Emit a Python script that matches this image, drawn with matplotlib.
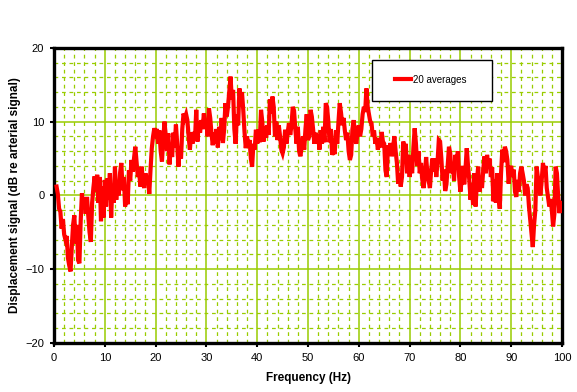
# Displacement signal spectrum, 20 averages
import matplotlib.pyplot as plt
from matplotlib.patches import Rectangle
import numpy as np

plt.rcParams['font.family'] = ['Liberation Sans', 'DejaVu Sans']

# frequency grid of the spectrum (Hz), 0.5 .. 99.75
freq = np.arange(0.5, 100, 0.25)

# values, in dB, one list per 10 Hz
seg_00 = [1.2, 0.2, -1.8, -2.2, -4.5, -3.2, -5.3, -6.0, -5.5, -8.5,
          -9.5, -10.3, -7.0, -4.0, -2.7, -6.5, -4.0, -8.8, -9.2, -3.5,
          0.3, -1.5, -0.3, -2.5, -0.2, -2.8, -5.0, -6.3, -1.0, 1.0,
          2.6, 0.5, 2.8, -1.0, 2.5, -3.5, 1.2, -3.0]
seg_10 = [2.1, -1.5, 2.3, -0.6, 3.0, -3.0, 1.5, -1.0, 3.9, -0.6,
          2.0, 0.0, 3.0, 4.4, 0.7, 2.5, -1.5, 0.5, -1.2, 3.4,
          2.0, 4.8, 3.2, 5.0, 6.6, 4.5, 2.5, 3.4, 1.2, 3.9,
          2.0, 1.0, 3.0, 2.0, 2.6, 0.2, 3.5, 6.4, 8.0, 9.1]
seg_20 = [8.5, 9.0, 7.0, 8.8, 6.0, 4.6, 7.5, 10.0, 8.0, 6.0,
          8.4, 4.2, 7.0, 5.2, 8.5, 6.5, 9.6, 7.0, 3.9, 6.5,
          5.0, 9.0, 11.1, 10.5, 11.0, 10.2, 8.0, 6.2, 8.5, 7.0,
          8.6, 7.5, 11.6, 7.3, 10.0, 8.5, 10.2, 9.0, 11.1, 9.0]
seg_30 = [10.0, 8.0, 11.8, 10.5, 8.4, 6.8, 8.5, 7.0, 9.0, 6.5,
          9.3, 7.5, 10.5, 7.1, 9.0, 12.5, 10.7, 12.0, 14.0, 16.1,
          13.0, 14.3, 9.0, 7.0, 11.0, 9.5, 14.5, 12.5, 14.0, 11.6,
          8.6, 6.4, 8.0, 6.8, 7.5, 5.0, 3.9, 7.0, 6.2, 8.9]
seg_40 = [7.0, 8.9, 7.2, 11.6, 10.0, 7.3, 9.3, 7.8, 9.5, 8.2,
          13.0, 11.1, 13.4, 12.0, 8.0, 10.0, 7.5, 9.5, 8.0, 6.2,
          5.7, 6.5, 8.9, 7.0, 8.5, 9.8, 8.2, 9.5, 12.0, 11.5,
          9.0, 7.0, 9.3, 6.0, 5.3, 6.5, 8.0, 6.2, 9.0, 11.0]
seg_50 = [7.5, 8.0, 11.6, 10.7, 9.0, 7.0, 8.5, 7.0, 8.3, 6.2,
          8.8, 7.0, 9.3, 7.2, 12.5, 12.0, 10.0, 7.2, 9.0, 5.5,
          6.0, 5.6, 8.8, 7.0, 10.0, 12.5, 11.2, 9.5, 10.5, 8.8,
          7.5, 8.5, 6.0, 4.8, 5.5, 9.0, 10.2, 8.0, 7.0, 8.5]
seg_60 = [9.5, 8.0, 9.0, 11.0, 12.0, 11.3, 14.5, 12.0, 11.0, 10.0,
          9.8, 8.0, 8.8, 7.0, 7.8, 6.2, 7.5, 6.5, 8.6, 7.3,
          7.0, 3.4, 2.5, 6.8, 5.7, 7.1, 5.3, 6.5, 8.0, 6.0,
          4.4, 1.6, 3.0, 1.2, 2.5, 7.3, 6.2, 7.0, 3.0, 5.5]
seg_70 = [2.5, 4.0, 3.0, 6.5, 9.1, 7.0, 4.0, 6.0, 3.0, 4.4,
          2.1, 1.0, 2.5, 5.2, 3.0, 2.0, 1.0, 3.5, 5.0, 3.2,
          5.0, 2.5, 4.5, 7.5, 7.3, 5.0, 2.0, 3.5, 0.6, 1.5,
          4.0, 6.6, 5.7, 3.0, 4.5, 2.0, 5.5, 4.0, 6.0, 2.5]
seg_80 = [0.5, 2.0, 4.0, 1.5, 3.5, 6.4, 4.0, 2.1, -0.6, 1.6,
          -1.3, 3.0, -1.5, 2.0, 3.9, 0.5, 2.5, 1.0, 3.5, 5.3,
          3.0, 5.5, 4.0, 5.0, 2.5, 3.8, -0.8, 2.1, -1.0, 3.0,
          -0.2, -1.8, 3.0, 6.2, 4.5, 6.6, 6.0, 4.8, 1.6, 3.5]
seg_90 = [4.0, 2.5, 3.5, 0.5, -0.2, 2.1, 0.5, 3.0, 3.9, 3.0,
          2.0, 0.0, 1.5, 1.0, -1.5, -3.3, -5.0, -7.0, -4.0, -2.0,
          3.9, 2.5, 1.0, 0.0, 2.0, 4.4, 3.0, 4.0, 1.0, -0.2,
          -1.5, -0.5, -2.0, -4.2, -2.5, 3.9, 3.0, -0.2, -2.4, -1.0]

signal = np.array(seg_00 + seg_10 + seg_20 + seg_30 + seg_40 +
                  seg_50 + seg_60 + seg_70 + seg_80 + seg_90)

x_ticks = [0, 10, 20, 30, 40, 50, 60, 70, 80, 90, 100]
y_ticks = [-20, -10, 0, 10, 20]
grid_color = '#99CC00'

fig = plt.figure(figsize=(5.77, 3.92), dpi=100)
ax = fig.add_axes([0.0936, 0.125, 0.8804, 0.753])

ax.plot(freq, signal, color='#FF0000', lw=3.0, solid_joinstyle='miter',
        label='20 averages', zorder=3)

ax.set_xlim(0, 100)
ax.set_ylim(-20, 20)
ax.set_xticks(x_ticks)
ax.set_yticks(y_ticks)
ax.set_xticks(np.arange(0, 101, 2), minor=True)
ax.set_yticks(np.arange(-20, 21, 2), minor=True)

# grid: solid majors, dashed minors
ax.grid(which='major', color=grid_color, lw=1.1, ls='-', zorder=0)
ax.grid(which='minor', color=grid_color, lw=0.9, ls=(0, (3, 3)), zorder=0)
ax.set_axisbelow(True)

ax.tick_params(which='major', direction='out', length=3, width=1.5,
               labelsize=8, pad=4)
ax.tick_params(which='minor', length=0)
for sp in ax.spines.values():
    sp.set_linewidth(2.4)
    sp.set_color('black')

ax.set_xlabel('Frequency (Hz)', fontsize=8.5, fontweight='bold', labelpad=7)
ax.set_ylabel('Displacement signal (dB re arterial signal)', fontsize=8.5,
              fontweight='bold', labelpad=3)

# legend box, drawn over the grid
frame = Rectangle((0.626, 0.820), 0.236, 0.139, transform=ax.transAxes,
                  facecolor='white', edgecolor='black', lw=1.0, zorder=4)
ax.add_patch(frame)
leg = ax.legend(loc='center', bbox_to_anchor=(0.742, 0.892), frameon=False,
                fontsize=7, handlelength=1.6, handletextpad=0.2,
                borderpad=0)
leg.set_zorder(5)

plt.savefig('out.png', dpi=100)
